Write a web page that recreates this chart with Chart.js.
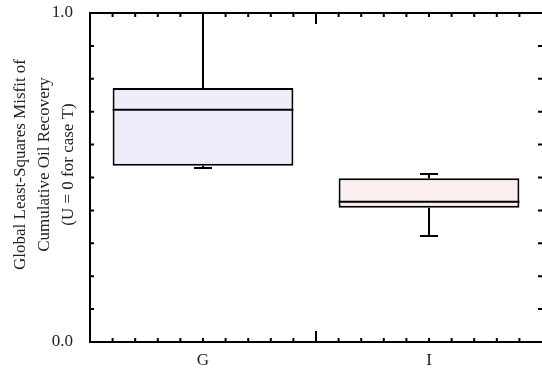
<!DOCTYPE html>
<html>
<head>
<meta charset="utf-8">
<script src="https://cdn.jsdelivr.net/npm/chart.js@4.4.1/dist/chart.umd.min.js"></script>
<style>
  body { margin: 0; background: #fff; }
  #wrap { width: 542px; height: 373px; }
</style>
</head>
<body>
<div id="wrap"><canvas id="boxChart"></canvas></div>
<script>
const categories = ['G', 'I'];
const mins = [0.529, 0.322];
const q1s = [0.536, 0.408];
const medians = [0.706, 0.426];
const q3s = [0.772, 0.498];
const maxs = [1.0, 0.511];
const boxColors = ['#eeeefa', '#faeeee'];
const titleLines = ['Global Least-Squares Misfit of', 'Cumulative Oil Recovery', '(U = 0 for case T)'];

const FONT = "'Liberation Serif', 'Times New Roman', serif";

// whiskers + medians, drawn from the scales
const boxExtras = {
  id: 'boxExtras',
  afterDatasetsDraw(chart) {
    const ctx = chart.ctx;
    const x = chart.scales.x, y = chart.scales.y;
    const bars = chart.getDatasetMeta(0).data;
    ctx.save();
    ctx.strokeStyle = '#000';
    ctx.lineWidth = 2;
    categories.forEach((c, i) => {
      const cx = x.getPixelForValue(i);
      const half = bars[i].width / 2;
      const cap = 9;
      ctx.beginPath();
      // median
      ctx.moveTo(cx - half, y.getPixelForValue(medians[i]));
      ctx.lineTo(cx + half, y.getPixelForValue(medians[i]));
      // upper whisker
      ctx.moveTo(cx, y.getPixelForValue(q3s[i]));
      ctx.lineTo(cx, y.getPixelForValue(maxs[i]));
      ctx.moveTo(cx - cap, y.getPixelForValue(maxs[i]));
      ctx.lineTo(cx + cap, y.getPixelForValue(maxs[i]));
      // lower whisker
      ctx.moveTo(cx, y.getPixelForValue(q1s[i]));
      ctx.lineTo(cx, y.getPixelForValue(mins[i]));
      ctx.moveTo(cx - cap, y.getPixelForValue(mins[i]));
      ctx.lineTo(cx + cap, y.getPixelForValue(mins[i]));
      ctx.stroke();
    });
    ctx.restore();
  }
};

// frame, inward ticks and rotated axis title
const frame = {
  id: 'frame',
  afterDraw(chart) {
    const ctx = chart.ctx;
    const a = chart.chartArea;
    const y = chart.scales.y;
    ctx.save();
    ctx.strokeStyle = '#000';
    ctx.lineWidth = 2;
    ctx.beginPath();
    ctx.moveTo(a.left - 1, a.top);
    ctx.lineTo(a.right, a.top);
    for (let k = 1; k < 10; k++) {
      const py = y.getPixelForValue(k / 10);
      ctx.moveTo(a.left, py); ctx.lineTo(a.left + 4, py);
      ctx.moveTo(a.right, py); ctx.lineTo(a.right - 4, py);
    }
    const n = categories.length * 10;
    for (let k = 1; k < n; k++) {
      const px = a.left + (a.right - a.left) * k / n;
      const len = (k % 10 === 0) ? 11 : 4;
      ctx.moveTo(px, a.bottom); ctx.lineTo(px, a.bottom - len);
      ctx.moveTo(px, a.top); ctx.lineTo(px, a.top + len);
    }
    ctx.stroke();

    ctx.fillStyle = '#222';
    ctx.font = '17px ' + FONT;
    ctx.textAlign = 'center';
    ctx.textBaseline = 'middle';
    ctx.translate(21, (a.top + a.bottom) / 2 - 13);
    ctx.rotate(-Math.PI / 2);
    titleLines.forEach((t, i) => ctx.fillText(t, 0, i * 24));
    ctx.restore();
  }
};

new Chart(document.getElementById('boxChart'), {
  type: 'bar',
  data: {
    labels: categories,
    datasets: [{
      data: categories.map((c, i) => [q1s[i], q3s[i]]),
      backgroundColor: boxColors,
      borderColor: '#000',
      borderWidth: 2,
      borderSkipped: false,
      categoryPercentage: 1,
      barPercentage: 0.8
    }]
  },
  options: {
    responsive: true,
    maintainAspectRatio: false,
    animation: false,
    layout: { padding: { top: 13, right: 0, left: 0, bottom: 0 } },
    plugins: {
      legend: { display: false },
      tooltip: { enabled: false }
    },
    scales: {
      x: {
        grid: { display: false },
        border: { display: true, color: '#000', width: 2 },
        ticks: { color: '#222', font: { family: FONT, size: 17 }, padding: 0 },
        afterFit(scale) {
          scale.height = 31;
          scale.paddingLeft = 0;
          scale.paddingRight = 0;
        }
      },
      y: {
        min: 0,
        max: 1,
        grid: { display: false },
        border: { display: true, color: '#000', width: 2 },
        ticks: {
          stepSize: 1,
          color: '#222',
          font: { family: FONT, size: 17 },
          padding: 9,
          callback: v => v.toFixed(1)
        },
        afterFit(scale) {
          scale.width = 90;
          scale.paddingTop = 0;
          scale.paddingBottom = 0;
        }
      }
    }
  },
  plugins: [boxExtras, frame]
});
</script>
</body>
</html>
